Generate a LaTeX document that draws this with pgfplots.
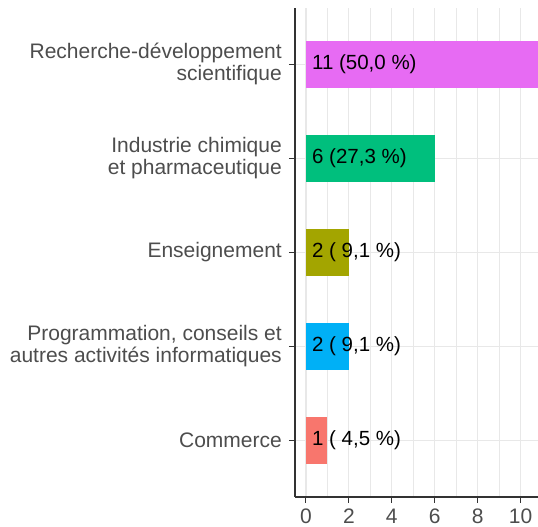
\documentclass[border=0pt]{standalone}
\usepackage{pgfplots}
\pgfplotsset{compat=1.18}
\usepackage{fontspec}
\setmainfont{Liberation Sans}
\definecolor{cCom}{HTML}{F8766D}
\definecolor{cEns}{HTML}{A3A500}
\definecolor{cInd}{HTML}{00BF7D}
\definecolor{cPro}{HTML}{00B0F6}
\definecolor{cRec}{HTML}{E76BF3}
\definecolor{gridc}{HTML}{E8E8E8}
\definecolor{txtc}{HTML}{4D4D4D}
\definecolor{axc}{HTML}{333333}
\begin{document}
\begin{tikzpicture}
\begin{axis}[
  scale only axis,
  width=243pt, height=489pt,
  xmin=-0.51, xmax=10.81,
  ymin=0.4, ymax=5.6,
  axis lines*=left,
  axis line style={draw=axc, line width=1.2pt, -},
  xtick={0,2,4,6,8,10},
  minor xtick={1,3,5,7,9},
  ytick={1,2,3,4,5},
  yticklabels={Commerce, {Programmation, conseils et\\autres activités informatiques}, Enseignement, {Industrie chimique\\et pharmaceutique}, {Recherche-développement\\scientifique}},
  yticklabel style={align=right, font=\fontsize{21}{22}\selectfont, text=txtc, inner sep=0pt, xshift=-7pt},
  xticklabel style={font=\fontsize{21}{22}\selectfont, text=txtc, inner sep=0pt, yshift=-6pt},
  /pgf/number format/assume math mode=true,
  tick align=outside,
  major tick length=6pt,
  minor tick length=0pt,
  tick style={draw=axc, line width=1.1pt},
  xmajorgrids, xminorgrids, ymajorgrids,
  major grid style={draw=gridc, line width=1.2pt},
  minor grid style={draw=gridc, line width=0.6pt},
  xbar, bar width=0.5, bar shift=0pt,
  clip=true,
]
\addplot[fill=cCom, draw=none] coordinates {(1,1)};
\addplot[fill=cPro, draw=none] coordinates {(2,2)};
\addplot[fill=cEns, draw=none] coordinates {(2,3)};
\addplot[fill=cInd, draw=none] coordinates {(6,4)};
\addplot[fill=cRec, draw=none] coordinates {(11,5)};
\node[anchor=west, inner sep=0pt, xshift=6pt, font=\fontsize{20.5}{22}\selectfont] at (axis cs:0,1) {1 ( 4,5 \%)};
\node[anchor=west, inner sep=0pt, xshift=6pt, font=\fontsize{20.5}{22}\selectfont] at (axis cs:0,2) {2 ( 9,1 \%)};
\node[anchor=west, inner sep=0pt, xshift=6pt, font=\fontsize{20.5}{22}\selectfont] at (axis cs:0,3) {2 ( 9,1 \%)};
\node[anchor=west, inner sep=0pt, xshift=6pt, font=\fontsize{20.5}{22}\selectfont] at (axis cs:0,4) {6 (27,3 \%)};
\node[anchor=west, inner sep=0pt, xshift=6pt, font=\fontsize{20.5}{22}\selectfont] at (axis cs:0,5) {11 (50,0 \%)};
\end{axis}
\pgfresetboundingbox
\path[use as bounding box] ([xshift=-295pt,yshift=-30pt]current axis.south west) rectangle ([yshift=8pt]current axis.north east);
\end{tikzpicture}
\end{document}
